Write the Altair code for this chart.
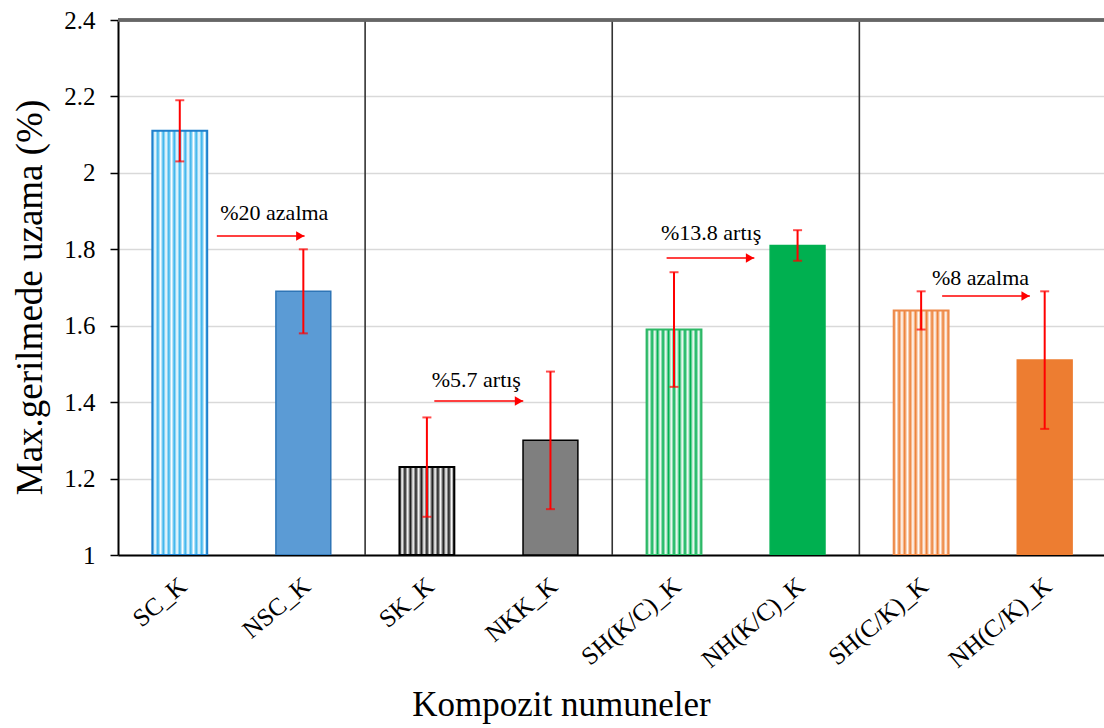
import json
import altair as alt
import pandas as pd

# Composite samples and their maximum elongation at peak stress (%)
samples = ["SC_K", "NSC_K", "SK_K", "NKK_K",
           "SH(K/C)_K", "NH(K/C)_K", "SH(C/K)_K", "NH(C/K)_K"]
elongation = [2.11, 1.69, 1.23, 1.30, 1.59, 1.81, 1.64, 1.51]
err_low = [2.03, 1.58, 1.10, 1.12, 1.44, 1.77, 1.59, 1.33]
err_high = [2.19, 1.80, 1.36, 1.48, 1.74, 1.85, 1.69, 1.69]

# Change notes between paired samples (arrow start/end in sample-index units)
note_text = ["%20 azalma", "%5.7 artış", "%13.8 artış", "%8 azalma"]
note_x = [0.765, 2.40, 4.30, 6.48]
note_y = [1.895, 1.458, 1.843, 1.725]
arrow_start = [0.30, 2.06, 3.94, 6.17]
arrow_end = [1.01, 2.78, 4.65, 6.88]
arrow_y = [1.835, 1.403, 1.777, 1.678]

# Group separators between sample families
separators = [1.5, 3.5, 5.5]

y_ticks = [1.0, 1.2, 1.4, 1.6, 1.8, 2.0, 2.2, 2.4]

# Styling per bar: (main colour, outline colour, textured?)
bar_style = [
    ("#34B2EC", "#1F7FCC", True),
    ("#5B9BD5", "#2E75B6", False),
    ("#1A1A1A", "#000000", True),
    ("#7F7F7F", "#000000", False),
    ("#00B050", "#2DB866", True),
    ("#00B050", "#00B050", False),
    ("#ED7D31", "#EE8A4A", True),
    ("#ED7D31", "#ED7D31", False),
]

SERIF = "Liberation Serif"
HALF_W = 0.222

df = pd.DataFrame({
    "sample": samples,
    "idx": list(range(len(samples))),
    "elong": elongation,
    "low": err_low,
    "high": err_high,
})
notes = pd.DataFrame({"label": note_text, "x": note_x, "y": note_y})
arrows = pd.DataFrame({"x0": arrow_start, "x1": arrow_end, "y": arrow_y})
seps = pd.DataFrame({"x": separators})


def texture(color, cycles=10):
    """Fine vertical stripe gradient used to suggest a hatched fill."""
    stops = []
    for k in range(cycles):
        stops.append({"offset": k / cycles, "color": color})
        stops.append({"offset": (k + 0.5) / cycles, "color": "#FFFFFF"})
    stops.append({"offset": 1.0, "color": color})
    return {"gradient": "linear", "x1": 0, "y1": 0, "x2": 1, "y2": 0,
            "stops": stops}


x_scale = alt.Scale(domain=[-0.5, 7.48], nice=False, zero=False)
y_scale = alt.Scale(domain=[1.0, 2.4], nice=False, zero=False)

label_expr = json.dumps(samples) + "[datum.value]"

x_axis = alt.Axis(
    values=list(range(len(samples))), labelExpr=label_expr,
    title="Kompozit numuneler",
    labelFont=SERIF, labelFontSize=25, labelAngle=-40,
    labelAlign="right", labelBaseline="middle",
    labelPadding=27, labelOffset=3,
)
y_axis = alt.Axis(
    values=y_ticks, format="~g",
    title="Max.gerilmede uzama (%)",
    labelFont=SERIF, labelFontSize=25, labelPadding=15,
)


def xq(field):
    return alt.X(field, scale=x_scale, axis=x_axis)


def yq(field):
    return alt.Y(field, scale=y_scale, axis=y_axis)


base = alt.Chart(df).transform_calculate(
    x0=f"datum.idx - {HALF_W}", x1=f"datum.idx + {HALF_W}"
)

layers = []
for i, (color, edge, textured) in enumerate(bar_style):
    fill = texture(color) if textured else color
    bar = base.transform_filter(alt.datum.idx == i).mark_bar(
        fill=fill, stroke=edge, strokeWidth=2 if textured else 1.5, clip=True
    ).encode(
        x=xq("x0:Q"),
        x2="x1:Q",
        y=yq("elong:Q"),
        y2=alt.datum(1.0),
    )
    layers.append(bar)

sep_rules = alt.Chart(seps).mark_rule(color="#333333", strokeWidth=1.6).encode(
    x=xq("x:Q")
)

top_line = alt.Chart(df).mark_rule(color="#666666", strokeWidth=2.5).encode(
    y=alt.datum(2.4)
)

err_rule = alt.Chart(df).mark_rule(color="#FF0000", strokeWidth=2).encode(
    x=xq("idx:Q"), y=yq("low:Q"), y2="high:Q",
)
err_cap_hi = alt.Chart(df).mark_tick(
    color="#FF0000", orient="horizontal", size=9, thickness=2
).encode(x=xq("idx:Q"), y=yq("high:Q"))
err_cap_lo = alt.Chart(df).mark_tick(
    color="#FF0000", orient="horizontal", size=9, thickness=2
).encode(x=xq("idx:Q"), y=yq("low:Q"))

arrow_line = alt.Chart(arrows).mark_rule(color="#FF0000", strokeWidth=1.5).encode(
    x=xq("x0:Q"), x2="x1:Q", y=yq("y:Q")
)
arrow_head = alt.Chart(arrows).transform_calculate(
    xh="datum.x1 - 0.035"
).mark_point(
    shape="triangle-right", filled=True, color="#FF0000", size=90, opacity=1
).encode(x=xq("xh:Q"), y=yq("y:Q"))

note_labels = alt.Chart(notes).mark_text(
    font=SERIF, fontSize=22, color="#000000", align="center", baseline="middle"
).encode(x=xq("x:Q"), y=yq("y:Q"), text="label:N")

chart = alt.layer(
    *layers, sep_rules, top_line, err_rule, err_cap_hi, err_cap_lo,
    arrow_line, arrow_head, note_labels
).properties(
    width=986, height=535,
    padding={"left": 118, "top": 20, "right": 0, "bottom": 173},
    autosize=alt.AutoSizeParams(type="none"),
).configure(
    background="#FFFFFF", font=SERIF
).configure_view(
    stroke=None
).configure_axis(
    labelFont=SERIF, titleFont=SERIF, labelColor="#000000",
    titleColor="#000000", titleFontWeight="normal",
    domainColor="#000000", domainWidth=2,
).configure_axisX(
    ticks=False, tickSize=0, grid=False,
    titleFontSize=35, titleX=443, titleY=160,
    titleAlign="center", titleBaseline="alphabetic",
).configure_axisY(
    tickColor="#000000", tickSize=8, tickWidth=1.5,
    grid=True, gridColor="#D9D9D9", gridWidth=1.3,
    titleFontSize=37, titleX=-88, titleY=277, titleAngle=270,
    titleAlign="center", titleBaseline="middle",
)

chart.save("out.html", embed_options={"renderer": "svg", "actions": False})
